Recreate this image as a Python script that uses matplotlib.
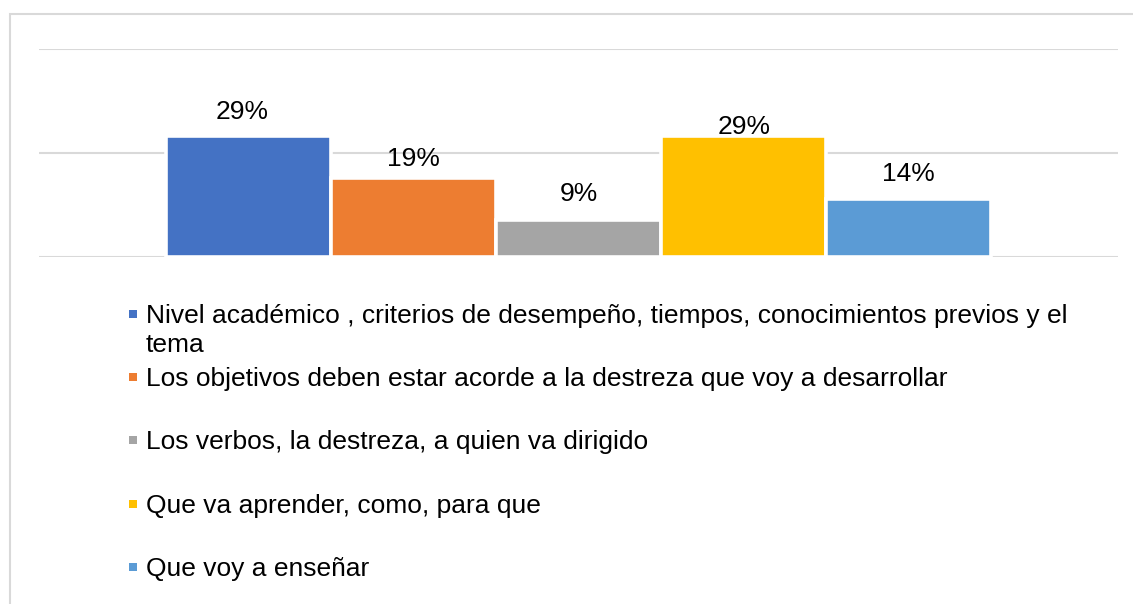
import textwrap
import matplotlib
matplotlib.use("Agg")
import matplotlib.pyplot as plt
from matplotlib.patches import Rectangle

plt.rcParams['font.family'] = ['Liberation Sans', 'DejaVu Sans']

# datos
categorias = [
    "Nivel académico , criterios de desempeño, tiempos, conocimientos previos y el tema",
    "Los objetivos deben estar acorde a la destreza que voy a desarrollar",
    "Los verbos, la destreza, a quien va dirigido",
    "Que va aprender, como, para que",
    "Que voy a enseñar",
]
porcentajes = [29, 19, 9, 29, 14]
colores = ["#4472C4", "#ED7D31", "#A5A5A5", "#FFC000", "#5B9BD5"]

# desplazamiento de las etiquetas (px) tal como en el original
label_dx = [-6, 0, 0, 0, 0]
label_dy = [17, 12, 19, 2, 18]

W, H = 1133, 604
fig = plt.figure(figsize=(W / 100, H / 100), dpi=100)

def fx(x):
    return x / W

def fy(y):
    return 1 - y / H

# marco gris del grafico
fig.patches.append(Rectangle((fx(10), fy(700)), 1.2, fy(14) - fy(700),
                             transform=fig.transFigure, fill=False,
                             edgecolor="#d9d9d9", linewidth=1.5))

ax = fig.add_axes([fx(39), fy(257.3), fx(1118) - fx(39), fy(48.5) - fy(257.3)])
ax.set_xlim(-1.266, 5.266)
ax.set_ylim(0, 0.5)

vals = [p / 100 for p in porcentajes]
xs = list(range(len(vals)))
bars = ax.bar(xs, vals, width=1.0, color=colores, edgecolor="white",
              linewidth=2.6, zorder=3)

for g in [0, 0.25, 0.5]:
    ax.axhline(g, color="#d9d9d9", linewidth=1.5, zorder=1)

for i, (x, v) in enumerate(zip(xs, vals)):
    ax.annotate(f"{porcentajes[i]}%", (x, v), xytext=(label_dx[i], label_dy[i]),
                textcoords="offset pixels", ha="center", va="baseline",
                fontsize=19, color="black", zorder=4)

ax.set_xticks([])
ax.set_yticks([])
for s in ax.spines.values():
    s.set_visible(False)
ax.patch.set_alpha(0)

# leyenda
base0 = 323
paso = 63.2
linea = 29.4
for i, cat in enumerate(categorias):
    yb = base0 + paso * i
    fig.patches.append(Rectangle((fx(128.5), fy(yb - 5)), 8 / W, 8 / H,
                                 transform=fig.transFigure,
                                 facecolor=colores[i], edgecolor="none"))
    for j, txt in enumerate(textwrap.wrap(cat, 78)):
        fig.text(fx(146), fy(yb + j * linea), txt, fontsize=19,
                 ha="left", va="baseline", color="black")

fig.savefig("out.png", dpi=100)
